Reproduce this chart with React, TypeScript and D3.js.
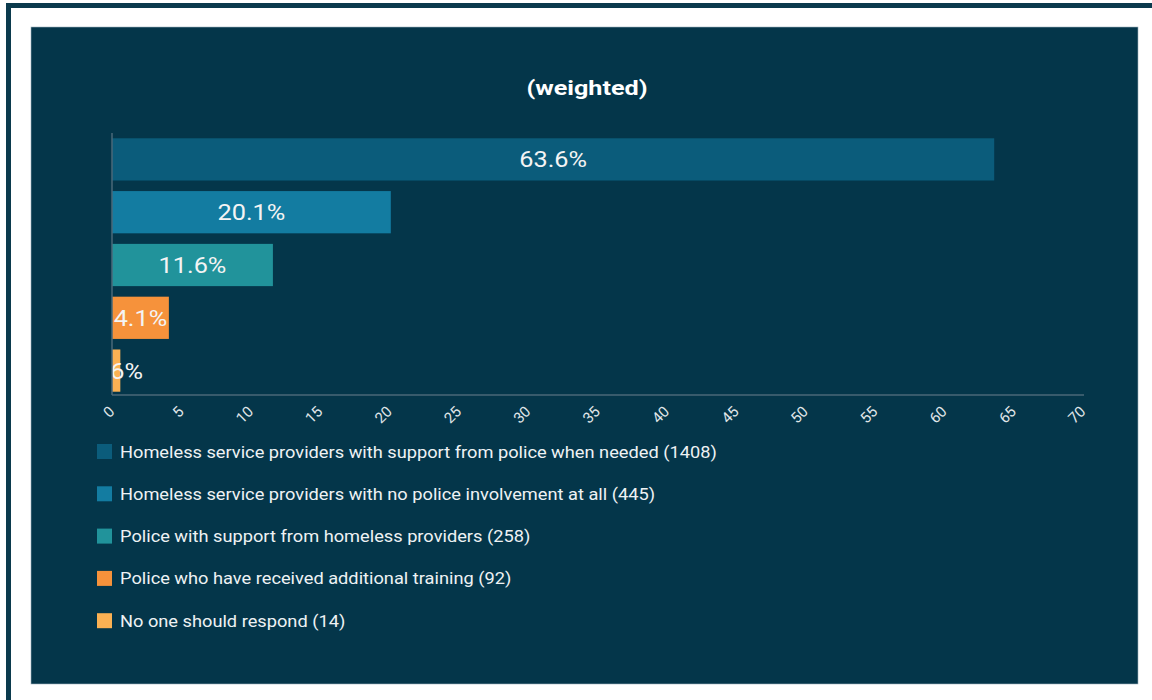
import React from "react";
import * as d3 from "d3";

const categories = [
  "Homeless service providers with support from police when needed (1408)",
  "Homeless service providers with no police involvement at all (445)",
  "Police with support from homeless providers (258)",
  "Police who have received additional training (92)",
  "No one should respond (14)",
];
const values = [63.6, 20.1, 11.6, 4.1, 0.6];
const colors = ["#0b5c7b", "#137ca1", "#21939b", "#f6923b", "#fbb153"];
const xTicks = [0, 5, 10, 15, 20, 25, 30, 35, 40, 45, 50, 55, 60, 65, 70];
const title = "(weighted)";

export default function App() {
  const W = 1152, H = 700;
  const x = d3.scaleLinear().domain([0, 70]).range([112, 1083]);
  const y = d3.scaleBand<number>().domain(d3.range(values.length)).range([133, 397]).paddingInner(0.2).paddingOuter(0.1);
  const font = "Roboto, 'Noto Sans', sans-serif";
  return (
    <div style={{ position: "absolute", left: 0, top: 0 }}>
      <svg width={W} height={H} style={{ display: "block" }}>
        <rect x={0} y={0} width={W} height={H} fill="#ffffff" />
        <rect x={6} y={3} width={W} height={5} fill="#0b3a4d" />
        <rect x={6} y={3} width={5} height={H} fill="#0b3a4d" />
        <rect x={31} y={27} width={1107} height={657} fill="#04364a" stroke="#9fb3bd" strokeWidth={0.6} />
        <text transform={`translate(587,95) scale(1.2,1)`} textAnchor="middle" fill="#ffffff" fontFamily={font} fontWeight="bold" fontSize={21}>{title}</text>
        <defs>
          <clipPath id="plotclip">
            <rect x={112} y={120} width={1000} height={290} />
          </clipPath>
        </defs>
        <g clipPath="url(#plotclip)">
          {values.map((v, i) => (
            <g key={i}>
              <rect x={x(0)} y={y(i)!} width={x(v) - x(0)} height={y.bandwidth()} fill={colors[i]} />
              <text transform={`translate(${(x(0) + x(v)) / 2},${y(i)! + y.bandwidth() / 2 + 8}) scale(1.15,1)`} textAnchor="middle" fill="#f4f4f4" fontFamily={font} fontSize={22}>{v.toFixed(1) + "%"}</text>
            </g>
          ))}
        </g>
        <line x1={112} x2={112} y1={133} y2={395} stroke="#4a6878" strokeWidth={1.5} />
        <line x1={112} x2={1084} y1={395} y2={395} stroke="#4a6878" strokeWidth={1.5} />
        {xTicks.map((t) => (
          <text key={t} transform={`translate(${x(t) - 4},${405}) rotate(-45)`} textAnchor="end" dy="0.7em" fill="#e0e6e9" fontFamily={font} fontSize={15}>{t}</text>
        ))}
        {categories.map((c, i) => (
          <g key={c} transform={`translate(97,${444 + i * 42.3})`}>
            <rect x={0} y={0} width={15} height={15} fill={colors[i]} />
            <text transform={`translate(23,13.5) scale(1.14,1)`} fill="#eef2f4" fontFamily={font} fontSize={16}>{c}</text>
          </g>
        ))}
      </svg>
    </div>
  );
}
